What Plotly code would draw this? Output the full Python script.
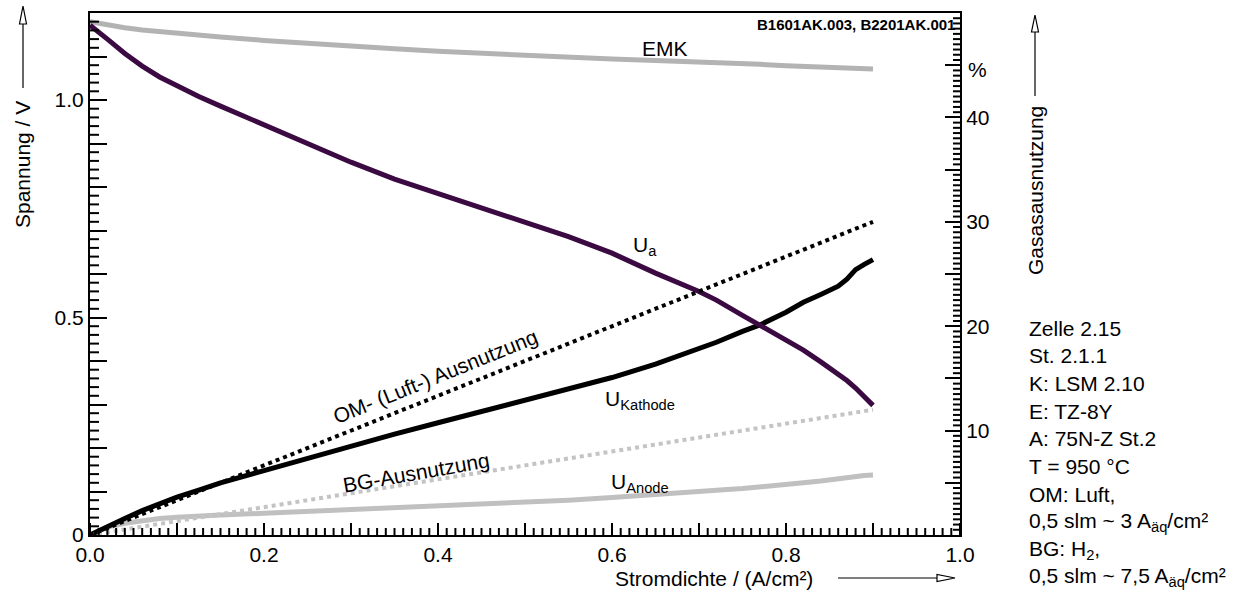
import plotly.graph_objects as go

# ---- data -----------------------------------------------------------------
current = [0, 0.01, 0.02, 0.04, 0.06, 0.08, 0.10, 0.125, 0.15, 0.2, 0.25, 0.3,
           0.35, 0.4, 0.45, 0.5, 0.55, 0.6, 0.65, 0.7, 0.72, 0.75, 0.77, 0.8,
           0.82, 0.84, 0.86, 0.87, 0.88, 0.89, 0.9]

emk = [1.180, 1.176, 1.172, 1.166, 1.161, 1.157, 1.153, 1.149, 1.145, 1.137,
       1.130, 1.124, 1.118, 1.112, 1.107, 1.102, 1.098, 1.094, 1.091, 1.088,
       1.087, 1.084, 1.082, 1.079, 1.077, 1.075, 1.074, 1.073, 1.072, 1.072,
       1.071]

u_a = [1.172, 1.157, 1.140, 1.107, 1.078, 1.053, 1.032, 1.008, 0.986, 0.942,
       0.899, 0.857, 0.818, 0.785, 0.754, 0.722, 0.686, 0.648, 0.602, 0.560,
       0.540, 0.505, 0.483, 0.450, 0.425, 0.398, 0.370, 0.355, 0.338, 0.318,
       0.298]

u_kathode = [0.0, 0.010, 0.020, 0.038, 0.056, 0.072, 0.087, 0.103, 0.120,
             0.148, 0.176, 0.205, 0.232, 0.258, 0.284, 0.310, 0.336, 0.362,
             0.393, 0.428, 0.443, 0.468, 0.483, 0.512, 0.535, 0.553, 0.572,
             0.588, 0.610, 0.622, 0.633]

u_anode = [0.0, 0.010, 0.018, 0.027, 0.033, 0.038, 0.041, 0.044, 0.046,
           0.050, 0.054, 0.058, 0.062, 0.066, 0.070, 0.075, 0.080, 0.086,
           0.092, 0.099, 0.103, 0.107, 0.110, 0.116, 0.120, 0.124, 0.130,
           0.133, 0.135, 0.137, 0.138]

util_current = [0.0, 0.9]
om_util = [0.0, 30.0]   # %  (0,5 slm ~ 3 A/cm²)
bg_util = [0.0, 12.0]   # %  (0,5 slm ~ 7,5 A/cm²)

info_lines = [
    "Zelle 2.15",
    "St. 2.1.1",
    "K: LSM 2.10",
    "E: TZ-8Y",
    "A: 75N-Z St.2",
    "T = 950 °C",
    "OM: Luft,",
    "0,5 slm ~ 3 A<sub>äq</sub>/cm²",
    "BG: H<sub>2</sub>,",
    "0,5 slm ~ 7,5 A<sub>äq</sub>/cm²",
]

# ---- geometry helpers (pixel -> paper) -------------------------------------
W, H = 1254, 611
PL, PR, PT, PB = 90, 960, 13, 535


def px(x):
    return (x - PL) / (PR - PL)


def py(y):
    return (PB - y) / (PB - PT)


FONT = "Liberation Sans, Arial, sans-serif"
FS = 21

PURPLE = "#3c0a42"
GREY_EMK = "#b3b3b3"
GREY_AN = "#c0c0c0"
GREY_BG = "#c4c4c4"

fig = go.Figure()

# voltages (left axis)
fig.add_trace(go.Scatter(x=current, y=emk, mode="lines",
                         line=dict(color=GREY_EMK, width=5)))
fig.add_trace(go.Scatter(x=current, y=u_anode, mode="lines",
                         line=dict(color=GREY_AN, width=5)))
fig.add_trace(go.Scatter(x=current, y=u_kathode, mode="lines",
                         line=dict(color="black", width=5)))
fig.add_trace(go.Scatter(x=current, y=u_a, mode="lines",
                         line=dict(color=PURPLE, width=5)))

# gas utilisation (right axis)
fig.add_trace(go.Scatter(x=util_current, y=bg_util, yaxis="y2", mode="lines",
                         line=dict(color=GREY_BG, width=4, dash="dot")))
fig.add_trace(go.Scatter(x=util_current, y=om_util, yaxis="y2", mode="lines",
                         line=dict(color="black", width=4, dash="dot")))

tickfont = dict(family=FONT, size=FS, color="black")
common = dict(showgrid=False, zeroline=False, showline=True,
              linecolor="black", linewidth=2, ticks="inside", tickwidth=2,
              tickcolor="black", tickfont=tickfont, tickmode="linear", tick0=0)

fig.update_layout(
    width=W, height=H,
    margin=dict(l=PL, r=W - PR, t=PT, b=H - PB, pad=0),
    paper_bgcolor="white", plot_bgcolor="white",
    showlegend=False,
    font=dict(family=FONT, size=FS, color="black"),
    xaxis=dict(range=[0, 1], mirror=True, dtick=0.1, ticklen=12,
               ticklabelstep=2, tickformat=".1f", **common),
    # voltage axis on the left
    yaxis=dict(range=[0, 1.2], side="left", dtick=0.1, ticklen=17,
               ticklabelstep=5, tickformat=".1f", labelalias={"0.0": "0"},
               **common),
    # % axis on the right
    yaxis2=dict(range=[0, 50], side="right", overlaying="y", anchor="x",
                dtick=5, ticklen=15, ticklabelstep=2,
                labelalias={"0": "", "50": ""}, **common),
)

ann = []


def label(text, x, y, size=FS, angle=0, xanchor="center", weight="normal"):
    ann.append(dict(text=text, x=px(x), y=py(y), xref="paper", yref="paper",
                    showarrow=False, textangle=angle, xanchor=xanchor,
                    yanchor="middle",
                    font=dict(family=FONT, size=size, color="black",
                              weight=weight)))


# curve labels
label("EMK", 665, 48)
label("U<sub>a</sub>", 645, 246)
label("U<sub>Kathode</sub>", 640, 400)
label("U<sub>Anode</sub>", 640, 483)
label("OM- (Luft-) Ausnutzung", 435, 376, angle=-22)
label("BG-Ausnutzung", 416, 472, angle=-10)
label("B1601AK.003, B2201AK.001", 957, 25, size=15, xanchor="right",
      weight="bold")

# unit of the right axis
label("%", 977, 69)

# axis titles
label("Spannung / V", 22, 165, angle=-90)
label("Gasasausnutzung", 1035, 191, angle=-90)
label("Stromdichte / (A/cm²)", 714, 578)

# cell description
for i, line in enumerate(info_lines):
    label(line, 1027, 328 + i * 27.7, xanchor="left")

fig.update_layout(annotations=ann)

shapes = []

# fine comb ticks along the three axes, placed on the axis values
TICK = dict(color="black", width=2)
PLOT_W = PR - PL
PLOT_H = PB - PT


def x_tick(v, length):
    shapes.append(dict(type="line", xref="x", x0=v, x1=v, yref="paper",
                       y0=0, y1=length / PLOT_H, line=TICK, layer="above"))


def y_tick(v, length, axis="y", edge=0.0, sign=1):
    shapes.append(dict(type="line", yref=axis, y0=v, y1=v, xref="paper",
                       x0=edge, x1=edge + sign * length / PLOT_W, line=TICK,
                       layer="above"))


for i in range(101):
    x_tick(i / 100, 12 if i % 10 == 0 else 7)
for i in range(61):
    if i % 5:
        y_tick(i / 50, 9, "y", 0.0, 1)
for i in range(101):
    if i % 10:
        y_tick(i / 2, 7, "y2", 1.0, -1)

# arrows with hollow heads next to the axis titles


def seg(x0, y0, x1, y1):
    shapes.append(dict(type="line", xref="paper", yref="paper",
                       x0=px(x0), y0=py(y0), x1=px(x1), y1=py(y1),
                       line=dict(color="black", width=1.2)))


def head(pts):
    path = "M " + " L ".join(f"{px(a)},{py(b)}" for a, b in pts) + " Z"
    shapes.append(dict(type="path", xref="paper", yref="paper", path=path,
                       fillcolor="white", line=dict(color="black", width=1.2)))


seg(23, 88, 23, 24)
head([(23, 6), (19.5, 24), (26.5, 24)])
seg(1035, 96, 1035, 32)
head([(1035, 15), (1031.5, 32), (1038.5, 32)])
seg(838, 578, 937, 578)
head([(955, 578), (937, 574.5), (937, 581.5)])

fig.update_layout(shapes=shapes)

fig.write_html("out.html")
